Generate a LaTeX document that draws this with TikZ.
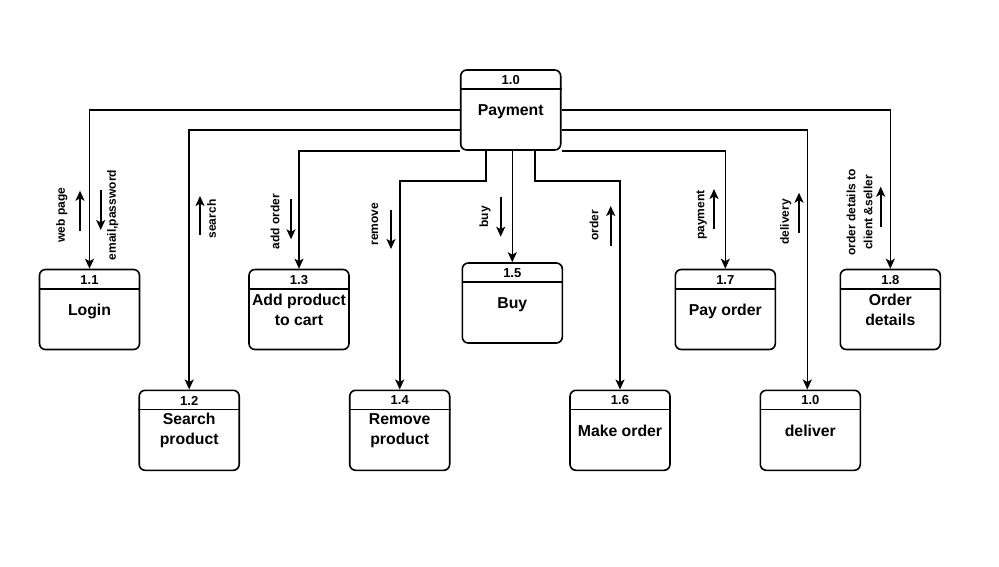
\documentclass[tikz,border=0pt]{standalone}
\usepackage{fontspec}
\setmainfont{Liberation Sans}
\usetikzlibrary{arrows.meta}
\begin{document}
\begin{tikzpicture}[x=1pt,y=-1pt,
  proc/.style={draw, line width=1.6pt, rounded corners=6pt, minimum width=100pt, minimum height=80pt, inner sep=0pt, align=center, font=\fontsize{15.8}{20}\selectfont\bfseries},
  one/.style={text height=11.5pt, text depth=0pt},
  hdr/.style={font=\fontsize{13}{15}\selectfont\bfseries, inner sep=0pt},
  flow/.style={line width=1.6pt, -{Stealth[length=10pt,width=9pt,inset=2.5pt]}},
  link/.style={line width=1.6pt},
  lbl/.style={rotate=90, font=\fontsize{12}{17}\selectfont\bfseries, inner sep=0pt, align=center}
]
\useasboundingbox (0,0) rectangle (999,566);
% boxes
\node[proc,one] (pay) at (510.7,110) {Payment};
\node[proc,one] (b11) at (89.5,309.5) {Login};
\node[proc] (b13) at (299,309.5) {Add product\\to cart};
\node[proc,one] (b15) at (512.3,303) {Buy};
\node[proc,one] (b17) at (725.3,309.5) {Pay order};
\node[proc] (b18) at (890.3,309.5) {Order\\details};
\node[proc] (b12) at (189.2,430.3) {Search\\product};
\node[proc] (b14) at (399.7,430.3) {Remove\\product};
\node[proc,one] (b16) at (620,430.3) {Make order};
\node[proc,one] (b10) at (810.3,430.3) {deliver};
\foreach \n/\t in {pay/1.0,b11/1.1,b12/1.2,b13/1.3,b14/1.4,b15/1.5,b16/1.6,b17/1.7,b18/1.8,b10/1.0}{
  \draw[link] ([yshift=-20pt]\n.north west) -- ([yshift=-20pt]\n.north east);
  \node[hdr] (\n-h) at ([yshift=-11pt]\n.north) {\t};
}
% connectors
\draw[flow] (pay.west) -| (b11.north);
\draw[flow] ([yshift=-20pt]pay.west) -| (b12.north);
\draw[flow] (pay.south west) -| (b13.north);
\draw[flow] (pay.east) -| (b18.north);
\draw[flow] ([yshift=-20pt]pay.east) -| ([xshift=-3pt]b10.north);
\draw[flow] (pay.south east) -| (b17.north);
\draw[flow] ([xshift=-25pt]pay.south) -- ++(0,30) -| (b14.north);
\draw[flow] (b15.north |- pay.south) -- (b15.north);
\draw[flow] ([xshift=24.5pt]pay.south) -- ++(0,30) -| (b16.north);
% flow labels
\node[lbl] (lwp) at (61.7,215) {web page};
\coordinate (wp1) at (80,230.7); \coordinate (wp2) at (80,190.7);
\draw[flow] (wp1) -- (wp2);
\node[lbl] (lem) at (112.7,215) {email,password};
\coordinate (em1) at (100.7,190); \coordinate (em2) at (100.7,230);
\draw[flow] (em1) -- (em2);
\node[lbl] (lse) at (211.7,219) {search};
\coordinate (se1) at (200,235); \coordinate (se2) at (200,196);
\draw[flow] (se1) -- (se2);
\node[lbl] (lad) at (275,221.7) {add order};
\coordinate (ad1) at (291,199.3); \coordinate (ad2) at (291,239.3);
\draw[flow] (ad1) -- (ad2);
\node[lbl] (lrm) at (375,224) {remove};
\coordinate (rm1) at (391,210); \coordinate (rm2) at (391,249);
\draw[flow] (rm1) -- (rm2);
\node[lbl] (lbu) at (485,216.7) {buy};
\coordinate (bu1) at (500.7,197); \coordinate (bu2) at (500.7,236.7);
\draw[flow] (bu1) -- (bu2);
\node[lbl] (lor) at (594,225) {order};
\coordinate (or1) at (610.7,245.7); \coordinate (or2) at (610.7,206);
\draw[flow] (or1) -- (or2);
\node[lbl] (lpa) at (701.7,215) {payment};
\coordinate (pa1) at (714,229); \coordinate (pa2) at (714,189);
\draw[flow] (pa1) -- (pa2);
\node[lbl] (lde) at (785.7,221.7) {delivery};
\coordinate (de1) at (799,232.7); \coordinate (de2) at (799,192.7);
\draw[flow] (de1) -- (de2);
\node[lbl] (lod) at (859.5,212.5) {order details to\\client \&seller};
\coordinate (od1) at (880.7,227); \coordinate (od2) at (880.7,186.7);
\draw[flow] (od1) -- (od2);
\end{tikzpicture}
\end{document}
